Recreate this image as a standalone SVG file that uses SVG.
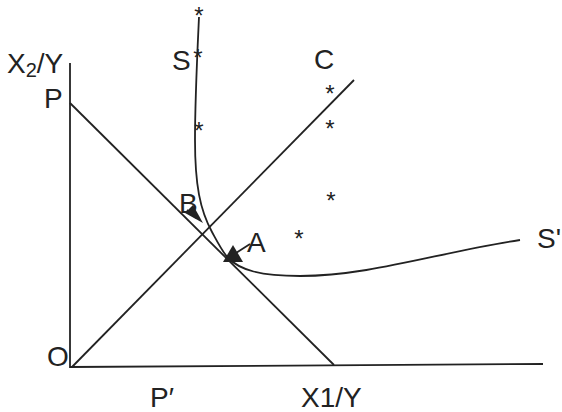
<svg xmlns="http://www.w3.org/2000/svg" width="562" height="412" viewBox="0 0 562 412">
<style>
.ln{fill:none;stroke:#222;stroke-width:1.8}
.t{font-family:"Liberation Sans",Arial,sans-serif;font-size:28px;fill:#222}
.st{font-family:"Liberation Sans",Arial,sans-serif;font-size:24px;fill:#222;text-anchor:middle}
</style>
<rect width="562" height="412" fill="#fff"/>
<g id="axes">
<line class="ln" x1="70" y1="63" x2="70" y2="368"/>
<line class="ln" x1="70" y1="367" x2="543" y2="364"/>
</g>
<g id="connectors">
<line id="budget-line" class="ln" x1="70" y1="103" x2="334" y2="365"/>
<line id="ray-C" class="ln" x1="72" y1="367" x2="354" y2="80"/>
<path id="curve-S" class="ln" d="M199,17 C197,60 195,100 195,140 C195,185 200,210 212,232 C218,243 222,251 228,258 C240,270 260,276 300,276 C370,276 440,252 520,240"/>
<line class="ln" x1="187" y1="210" x2="196" y2="218"/>
<polygon points="185,213 193,205 203,223" fill="#222"/>
<line class="ln" x1="250" y1="244" x2="236" y2="253"/>
<polygon points="233,245 223,262 243,262" fill="#222"/>
</g>
<g id="labels">
<text class="t" x="7" y="73">X<tspan font-size="20" dy="4">2</tspan><tspan dy="-4">/Y</tspan></text>
<text class="t" x="44" y="108">P</text>
<text class="t" x="172" y="70">S</text>
<text class="t" x="314" y="69">C</text>
<text class="t" x="537" y="248">S'</text>
<text class="t" x="247" y="252">A</text>
<text class="t" x="179" y="213">B</text>
<text class="t" x="47" y="366">O</text>
<text class="t" x="150" y="407">P′</text>
<text class="t" x="301" y="407">X1/Y</text>
</g>
<g id="stars">
<text class="st" x="199" y="24">*</text>
<text class="st" x="198" y="66">*</text>
<text class="st" x="199" y="139">*</text>
<text class="st" x="330" y="102">*</text>
<text class="st" x="330" y="137">*</text>
<text class="st" x="331" y="209">*</text>
<text class="st" x="299" y="247">*</text>
</g>
</svg>
